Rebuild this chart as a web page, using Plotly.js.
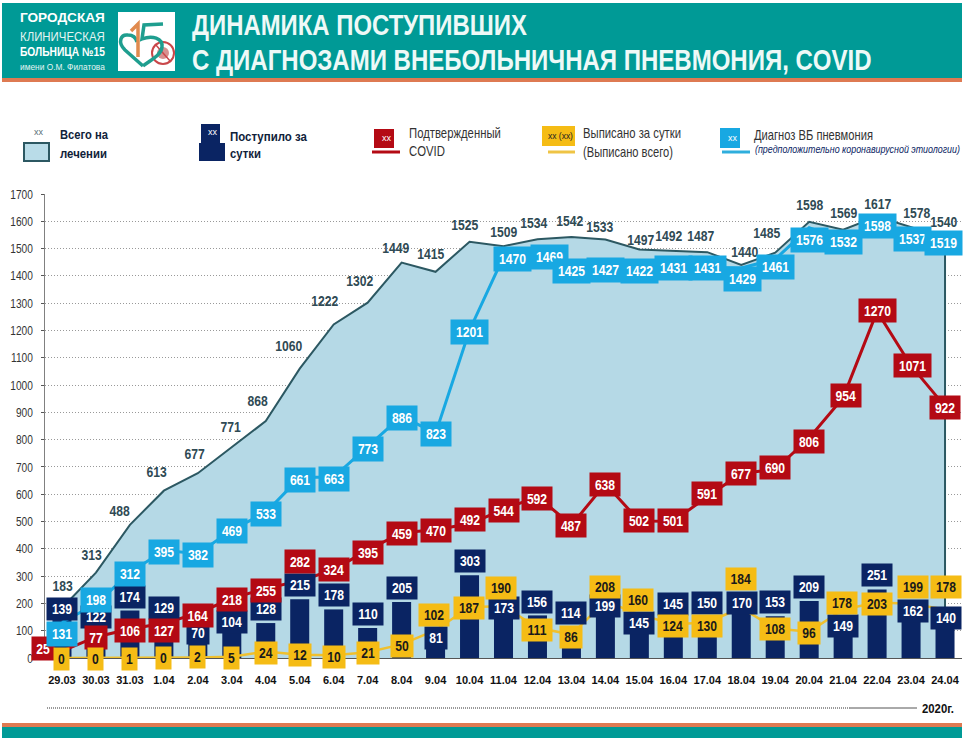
<!DOCTYPE html>
<html><head><meta charset="utf-8">
<script src="https://cdn.plot.ly/plotly-3.0.1.min.js"></script>
<style>html,body{margin:0;padding:0;background:#fff}#c{width:965px;height:738px}</style>
</head><body><div id="c"></div>
<script>
// ---------- data ----------
const categories = ['29.03','30.03','31.03','1.04','2.04','3.04','4.04','5.04','6.04','7.04','8.04','9.04','10.04','11.04','12.04','13.04','14.04','15.04','16.04','17.04','18.04','19.04','20.04','21.04','22.04','23.04','24.04'];
const totalInCare = [183,313,488,613,677,771,868,1060,1222,1302,1449,1415,1525,1509,1534,1542,1533,1497,1492,1487,1440,1485,1598,1569,1617,1578,1540];
const admitted = [139,122,174,129,70,104,128,215,178,110,205,81,303,173,156,114,199,145,145,150,170,153,209,149,251,162,140];
const covid = [25,77,106,127,164,218,255,282,324,395,459,470,492,544,592,487,638,502,501,591,677,690,806,954,1270,1071,922];
const discharged = [0,0,1,0,2,5,24,12,10,21,50,102,187,190,111,86,208,160,124,130,184,108,96,178,203,199,178];
const pneumonia = [131,198,312,395,382,469,533,661,663,773,886,823,1201,1470,1469,1425,1427,1422,1431,1431,1429,1461,1576,1532,1598,1537,1519];

// label nudges in pixels (the reference moves its labels away from the points)
const totalDX = [1,-4,-10,-7,-3,-1,-8,-11,-9,-8,-6,-5,-5,0,-3,-2,-6,1,-5,-7,3,-9,0,0,0,5,-2];
const totalDY = [23,18,14,19,20,21,21,23,24,22,15,18,17,15,17,17,13,10,15,17,13,20,17,17,13,15,16];
const admittedDX = [0,0,0,0,0,0,0,0,0,0,0,0,0,0,0,0,0,0,0,0,1,0,0,0,0,2,1];
const admittedDY = [11,8,14,15,6,8,14,14,14,14,14,-2,14,3,13,14,-2,-5,14,14,9,14,14,-9,14,3,2];
const covidDX = [-19,0,0,0,0,0,0,0,0,0,0,0,0,0,0,0,0,0,0,0,0,0,0,3,0,1,0];
const covidDY = [3,-1,-1,-7,-2,-1,-2,20,0,-2,-1,-1,4,-1,-2,0,-1,0,1,3,0,2,-3,2,1,0,-1];
const dischargedDX = [0,0,0,0,0,0,0,0,0,0,0,-2,-1,-3,0,0,0,-1,0,0,0,0,0,-1,0,2,1];
const dischargedDY = [-1,-1,-1,0,0,-1,-2,0,-2,-1,-2,15,-1,18,-2,-2,14,14,-2,-3,29,0,-1,6,-1,17,22];
const pneumoniaDX = [0,0,0,0,0,0,0,0,0,0,0,0,0,9,12,0,0,0,0,0,1,0,0,0,0,1,-2];
const pneumoniaDY = [-12,4,-1,-2,-1,-1,-1,-2,-2,-2,-2,-1,-2,-2,0,-2,-1,-1,-1,-1,-11,-8,-12,-2,-4,-1,0];

// ---------- style ----------
const W=965,H=738, SANS='"Liberation Sans",Arial,sans-serif';
const TEAL='#009A96',ORANGE='#DE7A52',NAVY='#0A2463',RED='#B40A14',YEL='#F5BC15',BLUE='#18A8E2',AREA='#B5D9E6',SLATE='#2C5862';
const m={l:45,r:3,t:194,b:80};
const PW=W-m.l-m.r, PH=H-m.t-m.b;
const fx=x=>(x-m.l)/PW, fy=y=>(H-m.b-y)/PH;
const rect=(x0,y0,x1,y1,fill,line,lw)=>({type:'rect',xref:'paper',yref:'paper',x0:fx(x0),x1:fx(x1),y0:fy(y0),y1:fy(y1),fillcolor:fill,line:{color:line||fill,width:lw||0}});
const seg=(x0,y0,x1,y1,color,w,dash)=>({type:'line',xref:'paper',yref:'paper',x0:fx(x0),x1:fx(x1),y0:fy(y0),y1:fy(y1),line:{color,width:w,dash:dash||'solid'}});
const circ=(cx,cy,r,fill,line,lw)=>({type:'circle',xref:'paper',yref:'paper',x0:fx(cx-r),x1:fx(cx+r),y0:fy(cy+r),y1:fy(cy-r),fillcolor:fill,line:{color:line,width:lw}});
const pathOf=(pts,color,w)=>({type:'path',xref:'paper',yref:'paper',line:{color,width:w},fillcolor:'rgba(0,0,0,0)',
  path:pts.map(p=>typeof p==='string'?p:fx(p[0])+','+fy(p[1])).join(' ')});
const fits={}; // text -> rendered width in px, condensed after drawing
const txt=(x,y,text,size,color,fit,o)=>{ fits[text.replace(/<[^>]+>/g,'')]=fit;
  return {xref:'paper',yref:'paper',x:fx(x),y:fy(y),text,showarrow:false,xanchor:'left',yanchor:'middle',align:'left',
  font:Object.assign({size,color,family:SANS},o||{})};};

const shapes=[
  rect(2,3,962,78,TEAL), rect(2,78,962,82,ORANGE),
  rect(2,723,962,727,ORANGE), rect(2,727,962,738,TEAL),
  rect(118,12,175,71,'#fff'),
  // logo
  circ(163,53,11,'rgba(0,0,0,0)','#C9474A',2), circ(163,53,6,'#D8908F','#D8908F',0),
  seg(155,44,171,62,'#C9474A',1.5),
  pathOf(['M',[143,66],'L',[125,50],'C',[117,42],[121,34],[128,35],'C',[133,35],[136,38],[137,42]],'#1F9E8F',3.5),
  pathOf(['M',[131,31],'L',[138,24],'L',[138,57]],'#E08A4E',3.5),
  pathOf(['M',[163,24],'L',[144,25],'L',[142,39],'C',[152,35],[163,38],[162,47],'C',[161,56],[150,60],[143,66]],'#1F9E8F',3.5),
  // bottom rule
  seg(47,708,850,708,'#333',1,'1px,1px'), seg(850,708,917,708,'#555',1),
  // legend
  rect(24,143,49,161,'#B9DCE8',SLATE,2),
  rect(201,124,220,143,NAVY), rect(199,143,225,161,NAVY),
  rect(374,129,394,148,RED), seg(372,152,400,152,RED,3),
  rect(542,126,575,146,YEL), seg(548,152,575,152,'#EFC445',3),
  rect(720,128,740,148,BLUE), seg(722,152,750,152,'#2FAEDD',3)
];

// ---------- labels ----------
const annotations=[];
function boxed(vals,dx,dy,bg,fg,h){
  vals.forEach((v,i)=>{
    const n=String(v).length;
    annotations.push({xref:'x',yref:'y',x:i,y:v,text:String(v),showarrow:false,xanchor:'center',yanchor:'middle',
      xshift:dx[i],yshift:dy[i],bgcolor:bg,borderpad:0,width:n===1?15:n===2?22:n===3?30:37,height:h,align:'center',valign:'middle',
      font:{family:SANS,size:15,color:fg,weight:700}});
  });
}
totalInCare.forEach((v,i)=>annotations.push({xref:'x',yref:'y',x:i,y:v,text:String(v),showarrow:false,xanchor:'center',yanchor:'middle',
  xshift:totalDX[i],yshift:totalDY[i],font:{family:SANS,size:15,color:'#2F4A54',weight:700}}));
boxed(admitted,admittedDX,admittedDY,NAVY,'#fff',22);
boxed(covid,covidDX,covidDY,RED,'#fff',23);
boxed(pneumonia,pneumoniaDX,pneumoniaDY,BLUE,'#fff',24);
boxed(discharged,dischargedDX,dischargedDY,YEL,'#1a1a1a',22);

const B={weight:700};
annotations.push(
  txt(190,25,'ДИНАМИКА ПОСТУПИВШИХ',29,'#EEF9F7',335,B),
  txt(190,60,'С ДИАГНОЗАМИ ВНЕБОЛЬНИЧНАЯ ПНЕВМОНИЯ, COVID',29,'#EEF9F7',680,B),
  txt(18,18,'ГОРОДСКАЯ',13.5,'#fff',85,B),
  txt(18,37,'КЛИНИЧЕСКАЯ',12.5,'#E4F4F2',85),
  txt(18,52,'БОЛЬНИЦА №15',12,'#fff',85,B),
  txt(18,67,'имени О.М. Филатова',8.5,'#E4F4F2',85),
  txt(32,132,'xx',9,'#5A6F78',9),
  txt(58,135,'Всего на',13,'#10223A',48,B),
  txt(58,154,'лечении',13,'#10223A',47,B),
  txt(206,132,'xx',9,'#fff',9),
  txt(228,136,'Поступило за',13,'#10223A',77,B),
  txt(228,154,'сутки',13,'#10223A',31,B),
  txt(380,138,'xx',9,'#fff',9),
  txt(407,133,'Подтвержденный',14,'#333',92),
  txt(407,151,'COVID',14,'#333',36),
  txt(546,136,'xx (xx)',9,'#222',25),
  txt(581,133,'Выписано за сутки',14,'#333',98),
  txt(581,152,'(Выписано всего)',14,'#333',90),
  txt(726,138,'xx',9,'#fff',9),
  txt(752,135,'Диагноз ВБ пневмония',14,'#333',119),
  txt(753,149,'<i>(предположительно коронавирусной этиологии)</i>',11,'#0A2463',205),
  txt(920,708,'2020г.',13,'#111',32,B)
);

// ---------- traces ----------
const last=categories.length-1;
const traces=[
  {type:'scatter',mode:'lines',x:categories,y:totalInCare,fill:'tozeroy',fillcolor:AREA,line:{color:SLATE,width:2},xaxis:'x',yaxis:'y',hoverinfo:'skip'},
  {type:'scatter',mode:'lines',x:[categories[last],categories[last]],y:[totalInCare[last],0],line:{color:SLATE,width:2},xaxis:'x',yaxis:'y',hoverinfo:'skip'},
  {type:'bar',x:categories,y:admitted,marker:{color:NAVY},xaxis:'x2',yaxis:'y2'},
  {type:'scatter',mode:'lines',x:categories,y:covid,line:{color:RED,width:3},xaxis:'x2',yaxis:'y2'},
  {type:'scatter',mode:'lines',x:categories,y:pneumonia,line:{color:BLUE,width:3},xaxis:'x2',yaxis:'y2'},
  {type:'scatter',mode:'lines',x:categories,y:discharged,line:{color:'#EFC02F',width:2.5},xaxis:'x2',yaxis:'y2'}
];
const xr=[-0.5,categories.length-0.5], yr=[0,1700];
Plotly.newPlot('c',traces,{
  width:W,height:H,margin:m,paper_bgcolor:'#fff',plot_bgcolor:'#fff',showlegend:false,bargap:0.44,
  xaxis:{type:'category',categoryorder:'array',categoryarray:categories,range:xr,showgrid:false,showline:true,linecolor:'#555',linewidth:1,ticks:'',
    ticklabelstandoff:12,tickangle:0,tickfont:{family:SANS,size:11,color:'#111',weight:700}},
  yaxis:{range:yr,dtick:100,tick0:0,showgrid:true,gridcolor:'#999',griddash:'1px,2px',gridwidth:1,zeroline:false,showline:true,linecolor:'#808080',linewidth:1.5,
    ticks:'outside',ticklen:3,tickcolor:'#555',ticklabelstandoff:5,tickfont:{family:SANS,size:13,color:'#333'}},
  xaxis2:{type:'category',categoryorder:'array',categoryarray:categories,range:xr,overlaying:'x',visible:false},
  yaxis2:{range:yr,overlaying:'y',visible:false},
  shapes,annotations
},{displayModeBar:false,staticPlot:true}).then(()=>{
  // the reference uses a condensed face; condense the real text to the same widths
  document.querySelectorAll('.annotation-text').forEach(el=>{
    const nat=el.getComputedTextLength(), w=fits[el.textContent];
    const s= w!==undefined ? w/nat : 0.81;
    const x=parseFloat(el.getAttribute('x'))||0;
    el.setAttribute('transform','translate('+(x*(1-s))+',0) scale('+s+',1)');
  });
  document.querySelectorAll('.ytick text').forEach(el=>{
    el.setAttribute('textLength',el.getComputedTextLength()*0.78);
    el.setAttribute('lengthAdjust','spacingAndGlyphs');
  });
});
</script></body></html>
